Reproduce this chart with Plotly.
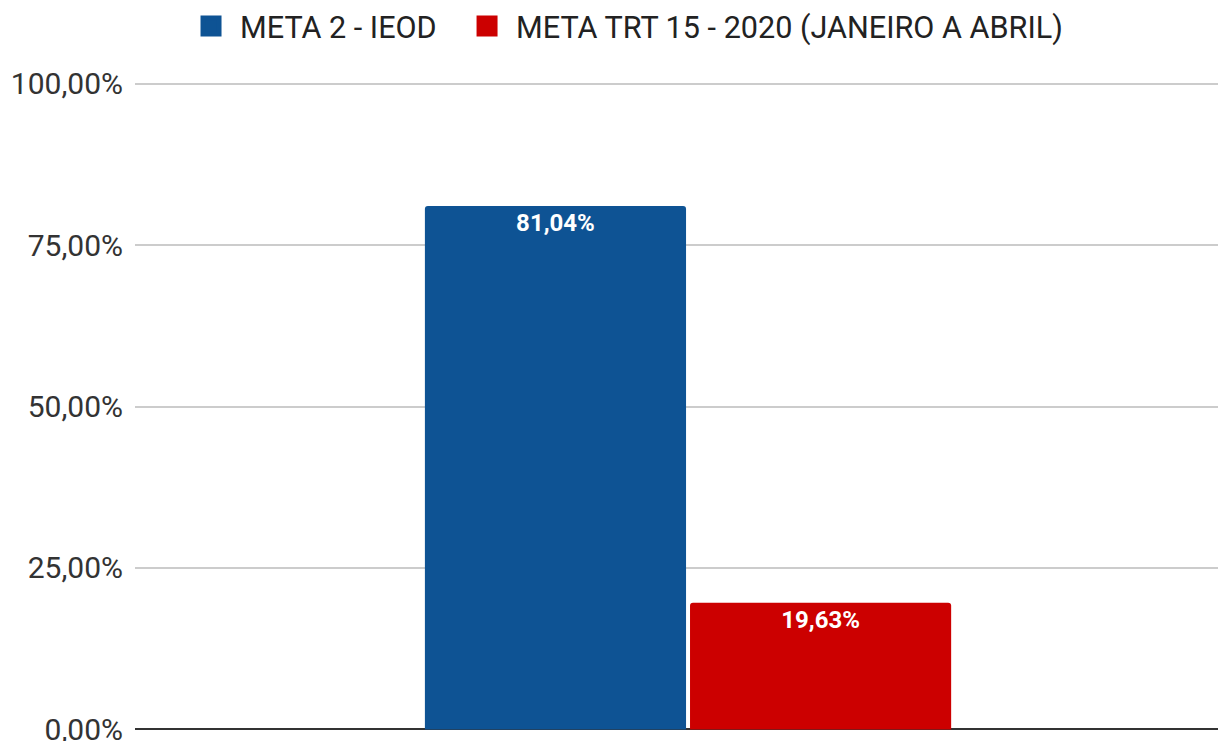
import plotly.graph_objects as go

categories = ["2020"]
series_names = ["META 2 - IEOD", "META TRT 15 - 2020 (JANEIRO A ABRIL)"]
meta2_values = [81.04]
trt15_values = [19.63]
tick_values = [0, 25, 50, 75, 100]
tick_labels = [f"{v:.2f}".replace(".", ",") + "%" for v in tick_values]
colors = ["#0E5394", "#CC0000"]
legend_ids = ["legend", "legend2"]

fig = go.Figure()
for i, (name, vals, col) in enumerate(zip(series_names, [meta2_values, trt15_values], colors)):
    fig.add_trace(go.Bar(
        x=categories, y=vals, name=name, marker_color=col,
        marker_line_width=0, showlegend=False, legendgroup=f"g{i}",
        text=[f"{v:.2f}".replace(".", ",") + "%" for v in vals],
        texttemplate="%{text}", textposition="inside", insidetextanchor="end",
        textfont=dict(family="Roboto", size=24, color="white", weight="bold"),
        textangle=0,
    ))
for i, (name, col, lg) in enumerate(zip(series_names, colors, legend_ids)):
    fig.add_trace(go.Scatter(
        x=[None], y=[None], name=name, mode="markers", legendgroup=f"g{i}",
        legend=lg,
        marker=dict(symbol="square", size=24, color=col, line=dict(color=col, width=5)),
    ))

legend_style = dict(orientation="h", xanchor="left", y=1.0845, yanchor="middle",
                    font=dict(family="Roboto", size=30.6, color="#222222"),
                    itemwidth=48, bgcolor="rgba(0,0,0,0)")

fig.update_layout(
    width=1218, height=733,
    margin=dict(l=127, r=0, t=73, b=9, pad=0, autoexpand=False),
    paper_bgcolor="white", plot_bgcolor="white",
    barmode="group", bargap=0.514, bargroupgap=0.015,
    barcornerradius=3,
    font=dict(family="Roboto", size=30, color="#222222"),
    showlegend=True,
    legend=dict(x=0.0431, **legend_style),
    legend2=dict(x=0.2961, **legend_style),
    uniformtext=dict(mode=False),
)
fig.update_yaxes(range=[-0.4, 100.4], tickvals=tick_values, ticktext=tick_labels,
                 showgrid=True, gridcolor="#cccccc", gridwidth=2,
                 zeroline=True, zerolinecolor="#333333", zerolinewidth=2,
                 showline=False, ticklabelstandoff=11, ticklabeloverflow="allow",
                 tickfont=dict(family="Roboto", size=30, color="#333333"))
fig.update_xaxes(range=[-0.5069, 0.4931], showticklabels=False, showline=False,
                 showgrid=False, zeroline=False)

fig.write_html("out.html")
